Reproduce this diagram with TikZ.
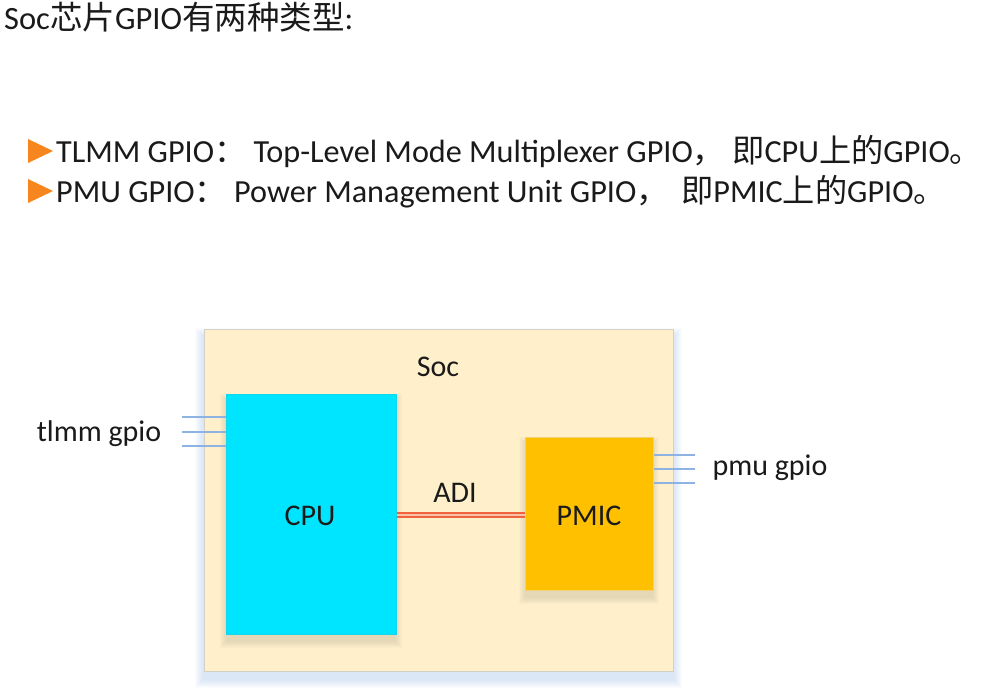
\documentclass[tikz,border=0pt]{standalone}
\usepackage{fontspec}
\setmainfont{Carlito}
\newfontfamily\cjkf{Noto Sans CJK SC}
\newcommand{\zh}[1]{{\cjkf #1}}
\definecolor{txt}{HTML}{1A1A1A}
\definecolor{socfill}{HTML}{FFF0CB}
\definecolor{socline}{HTML}{D3D0C8}
\definecolor{cpufill}{HTML}{00E5FF}
\definecolor{pmicfill}{HTML}{FFC000}
\definecolor{gpioline}{HTML}{8DB3E2}
\definecolor{adired}{HTML}{F0623C}
\definecolor{adigap}{HTML}{FAC0A8}
\definecolor{bullet}{HTML}{F7861E}
\definecolor{socshadow}{HTML}{9DBDEB}
\definecolor{boxshadow}{HTML}{A09880}
\begin{document}
\begin{tikzpicture}[x=1pt,y=-1pt,
  every node/.style={text=txt, inner sep=0pt},
  blk/.style={draw, anchor=north west, line width=0.8pt},
  gpio/.style={draw=gpioline, line width=1.1pt},
  lbl/.style={font=\fontsize{30}{34}\selectfont, anchor=base},
  bul/.style={fill=bullet},
  head/.style={font=\fontsize{32.2}{38}\selectfont, anchor=base west}
]
\useasboundingbox[fill=white] (0,0) rectangle (990,693);
% corner coordinates of the boxes
\coordinate (socNW) at (204,329);  \coordinate (socSE) at (673,671);
\coordinate (cpuNW) at (226,394);  \coordinate (cpuSE) at (396,634);
\coordinate (pmicNW) at (525,437); \coordinate (pmicSE) at (653,590);
% title
\node[anchor=base west, font=\fontsize{32.5}{38}\selectfont] (title) at (4,30) {Soc\zh{芯片}GPIO\zh{有两种类型}:};
% bullets
\path[bul] (28,139) -- (53,151) -- (28,163) -- cycle;
\path[bul] (28,179) -- (53,191) -- (28,203) -- cycle;
\node[head] (l1) at (56,162) {TLMM GPIO\zh{：} Top-Level Mode Multiplexer GPIO\zh{，} \zh{即}CPU\zh{上的}GPIO\zh{。}};
\node[head] (l2) at (56,202) {PMU GPIO\zh{：} Power Management Unit GPIO\zh{，}\, \zh{即}PMIC\zh{上的}GPIO\zh{。}};
% soc shadow
\foreach \k in {1,...,9}{
  \fill[socshadow, opacity=0.045] ([shift={(-\k,8-\k)}]socNW) rectangle ([shift={(\k,8+\k)}]socSE);
}
\node[blk, draw=socline, fill=socfill, minimum width=469, minimum height=342] (soc) at (socNW) {};
\node[lbl] (soclbl) at (438,376) {Soc};
% box shadows
\foreach \k in {1,...,7}{
  \fill[boxshadow, opacity=0.04] ([shift={(-\k+1,7-\k)}]cpuNW) rectangle ([shift={(\k-1,7+\k)}]cpuSE);
  \fill[boxshadow, opacity=0.04] ([shift={(-\k+1,7-\k)}]pmicNW) rectangle ([shift={(\k-1,7+\k)}]pmicSE);
}
% cpu
\node[blk, draw=cpufill!85!gray, fill=cpufill, minimum width=170, minimum height=240] (cpu) at (cpuNW) {};
\node[lbl] (cpulbl) at (310,525) {CPU};
% pmic
\node[blk, draw=pmicfill!80!gray!60!white, fill=pmicfill, minimum width=128, minimum height=153] (pmic) at (pmicNW) {};
\node[lbl] (pmiclbl) at (589,525) {PMIC};
% ADI
\node[lbl] (adilbl) at (455,502) {ADI};
\coordinate (adiL) at (cpu.east |- 0,515);
\coordinate (adiR) at (pmic.west |- 0,515);
\draw[draw=adired, line width=2pt, double=adigap, double distance=1.6pt] (adiL) -- (adiR);
% left gpio
\foreach \y/\n in {417/a,432/b,446/c}{
  \coordinate (tl\n) at (182,\y);
  \draw[gpio] (tl\n) -- (cpu.west |- tl\n);
}
\node[lbl] (tlmm) at (99,441) {tlmm gpio};
% right gpio
\foreach \y/\n in {455/a,469/b,483/c}{
  \coordinate (pm\n) at (695,\y);
  \draw[gpio] (pmic.east |- pm\n) -- (pm\n);
}
\node[lbl] (pmu) at (770,475) {pmu gpio};
\end{tikzpicture}
\end{document}
